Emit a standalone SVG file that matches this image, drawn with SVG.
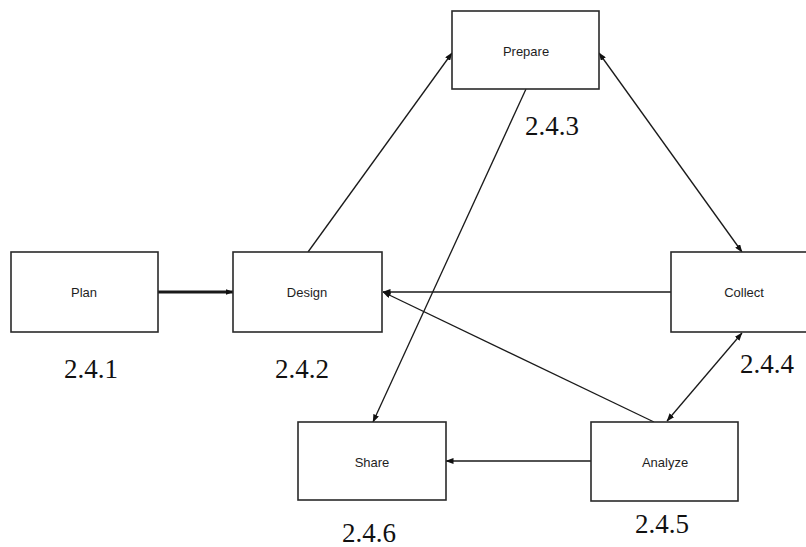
<svg xmlns="http://www.w3.org/2000/svg" width="806" height="547" viewBox="0 0 806 547">
  <style>
    .box { fill: #ffffff; stroke: #2a2a2a; stroke-width: 1.6; }
    .name { font-family: "Liberation Sans", "Open Sans", sans-serif; font-size: 13px; fill: #1e1e1e; text-anchor: middle; dominant-baseline: central; }
    .num { font-family: "Liberation Serif", "Times New Roman", serif; font-size: 27px; fill: #111111; text-anchor: middle; }
    .link { fill: none; stroke: #1a1a1a; stroke-width: 1.3; }
    .thick { stroke-width: 3; }
  </style>
  <defs>
    <marker id="head" viewBox="0 0 8 6" refX="7.5" refY="3" markerWidth="8" markerHeight="6" markerUnits="userSpaceOnUse" orient="auto-start-reverse">
      <path d="M0,0 L8,3 L0,6 Z" fill="#111111"/>
    </marker>
  </defs>

  <rect width="806" height="547" fill="#ffffff"/>

  <g id="connectors">
    <line class="link thick" x1="158" y1="292" x2="233" y2="292" marker-end="url(#head)"/>
    <line class="link" x1="308" y1="252" x2="452" y2="53" marker-end="url(#head)"/>
    <line class="link" x1="526" y1="89" x2="373" y2="422" marker-end="url(#head)"/>
    <line class="link" x1="599" y1="53" x2="742" y2="252" marker-start="url(#head)" marker-end="url(#head)"/>
    <line class="link" x1="671" y1="292" x2="383" y2="292" marker-end="url(#head)"/>
    <line class="link" x1="654" y1="422" x2="383" y2="292" marker-end="url(#head)"/>
    <line class="link" x1="742" y1="333" x2="667" y2="421" marker-start="url(#head)" marker-end="url(#head)"/>
    <line class="link" x1="591" y1="461" x2="446" y2="461" marker-end="url(#head)"/>
  </g>

  <g id="plan">
    <rect class="box" x="11" y="252" width="147" height="80"/>
    <text class="name" x="84" y="292">Plan</text>
    <text class="num" x="91" y="378">2.4.1</text>
  </g>

  <g id="design">
    <rect class="box" x="233" y="252" width="149" height="80"/>
    <text class="name" x="307" y="292">Design</text>
    <text class="num" x="302" y="378">2.4.2</text>
  </g>

  <g id="prepare">
    <rect class="box" x="452" y="11" width="147" height="78"/>
    <text class="name" x="526" y="51">Prepare</text>
    <text class="num" x="552" y="135">2.4.3</text>
  </g>

  <g id="collect">
    <rect class="box" x="671" y="252" width="148" height="80"/>
    <text class="name" x="744" y="292">Collect</text>
    <text class="num" x="767" y="373">2.4.4</text>
  </g>

  <g id="analyze">
    <rect class="box" x="591" y="422" width="147" height="79"/>
    <text class="name" x="665" y="462">Analyze</text>
    <text class="num" x="662" y="533">2.4.5</text>
  </g>

  <g id="share">
    <rect class="box" x="298" y="422" width="148" height="78"/>
    <text class="name" x="372" y="462">Share</text>
    <text class="num" x="369" y="542">2.4.6</text>
  </g>
</svg>
